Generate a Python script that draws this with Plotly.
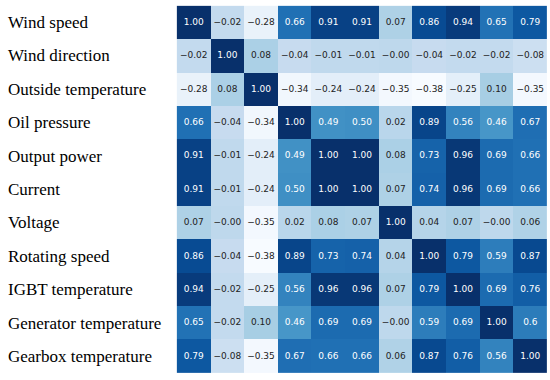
import plotly.graph_objects as go

variables = ["Wind speed", "Wind direction", "Outside temperature", "Oil pressure",
             "Output power", "Current", "Voltage", "Rotating speed", "IGBT temperature",
             "Generator temperature", "Gearbox temperature"]

corr = [
    [1.00, -0.02, -0.28, 0.66, 0.91, 0.91, 0.07, 0.86, 0.94, 0.65, 0.79],
    [-0.02, 1.00, 0.08, -0.04, -0.01, -0.01, -0.00, -0.04, -0.02, -0.02, -0.08],
    [-0.28, 0.08, 1.00, -0.34, -0.24, -0.24, -0.35, -0.38, -0.25, 0.10, -0.35],
    [0.66, -0.04, -0.34, 1.00, 0.49, 0.50, 0.02, 0.89, 0.56, 0.46, 0.67],
    [0.91, -0.01, -0.24, 0.49, 1.00, 1.00, 0.08, 0.73, 0.96, 0.69, 0.66],
    [0.91, -0.01, -0.24, 0.50, 1.00, 1.00, 0.07, 0.74, 0.96, 0.69, 0.66],
    [0.07, -0.00, -0.35, 0.02, 0.08, 0.07, 1.00, 0.04, 0.07, -0.00, 0.06],
    [0.86, -0.04, -0.38, 0.89, 0.73, 0.74, 0.04, 1.00, 0.79, 0.59, 0.87],
    [0.94, -0.02, -0.25, 0.56, 0.96, 0.96, 0.07, 0.79, 1.00, 0.69, 0.76],
    [0.65, -0.02, 0.10, 0.46, 0.69, 0.69, -0.00, 0.59, 0.69, 1.00, 0.60],
    [0.79, -0.08, -0.35, 0.67, 0.66, 0.66, 0.06, 0.87, 0.76, 0.56, 1.00],
]

# cells printed as "-0.00" in the reference, and one printed with a single decimal
negative_zero_cells = {(1, 6), (6, 1), (6, 9), (9, 6)}
special_labels = {(9, 10): "0.6"}

def fmt(v, neg_zero=False):
    s = f"{abs(v):.2f}"
    if v < 0 or neg_zero:
        s = "\u2212" + s
    return s

xs, ys, texts, colors = [], [], [], []
for i, row in enumerate(corr):
    for j, v in enumerate(row):
        xs.append(variables[j])
        ys.append(variables[i])
        t = special_labels.get((i, j), fmt(v, (i, j) in negative_zero_cells))
        texts.append(t)
        colors.append("white" if v > 0.3 else "#222222")

fig = go.Figure()
fig.add_trace(go.Heatmap(
    z=corr, x=variables, y=variables,
    colorscale="Blues", zmin=-0.38, zmax=1.0,
    showscale=False, xgap=0, ygap=0, hoverinfo="skip",
))
fig.add_trace(go.Scatter(
    x=xs, y=ys, mode="text", text=texts,
    textfont=dict(family="DejaVu Sans", size=9, color=colors),
    hoverinfo="skip", showlegend=False,
))

for name in variables:
    fig.add_annotation(
        x=0, xref="paper", y=name, yref="y", text=name, showarrow=False,
        xanchor="left", xshift=-169,
        font=dict(family="Liberation Serif", size=17, color="black"),
    )

fig.update_xaxes(showticklabels=False, showgrid=False, zeroline=False, ticks="")
fig.update_yaxes(showticklabels=False, showgrid=False, zeroline=False, ticks="",
                 autorange="reversed")
fig.update_layout(
    width=550, height=380,
    margin=dict(l=175, r=1, t=4, b=5),
    paper_bgcolor="white", plot_bgcolor="white",
    showlegend=False,
)
fig.write_html("out.html", config={"displayModeBar": False},
               post_script="document.body.style.margin='0';")
